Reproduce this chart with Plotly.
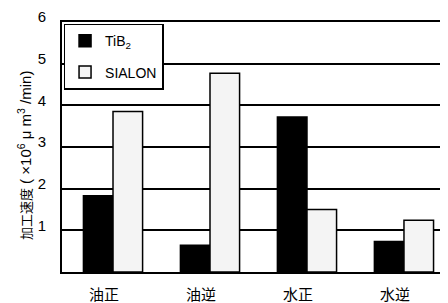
import plotly.graph_objects as go

categories = ["油正", "油逆", "水正", "水逆"]
tib2 = [1.83, 0.64, 3.72, 0.73]
sialon = [3.85, 4.77, 1.50, 1.24]
ytick_vals = [1, 2, 3, 4, 5, 6]

FONT = "Liberation Sans, Arial, Noto Sans CJK JP, sans-serif"

fig = go.Figure()
fig.add_trace(go.Bar(
    x=categories, y=tib2, name="TiB<sub>2</sub>",
    marker=dict(color="#000000", line=dict(color="#000000", width=1.5)),
    legendgroup="a",
))
fig.add_trace(go.Bar(
    x=categories, y=sialon, name="SIALON",
    marker=dict(color="#f4f4f4", line=dict(color="#000000", width=1.5)),
    legendgroup="b",
))

fig.update_layout(
    width=440, height=295,
    margin=dict(l=54, r=0, t=3, b=29),
    paper_bgcolor="white", plot_bgcolor="white",
    font=dict(family=FONT, size=14, color="#000000"),
    barmode="group", bargap=0.39, bargroupgap=0.0,
    showlegend=True,
    legend=dict(
        x=0.004, y=0.993, xanchor="left", yanchor="top",
        bgcolor="white", bordercolor="#000000", borderwidth=1.5,
        font=dict(family=FONT, size=14, color="#000000"),
        tracegroupgap=10, itemwidth=30,
    ),
    xaxis=dict(
        type="category", range=[-0.526, 3.454],
        showline=True, linecolor="#000000", linewidth=2, mirror=True,
        showgrid=False, ticks="", ticklabelshift=-9, ticklabelstandoff=8,
        tickfont=dict(family=FONT, size=15, color="#000000"),
        zeroline=False,
    ),
    yaxis=dict(
        range=[0, 6], tickvals=ytick_vals,
        showline=True, linecolor="#000000", linewidth=2,
        showgrid=True, gridcolor="#000000", gridwidth=1.5,
        ticks="", ticklabelstandoff=11, ticklabelshift=-5,
        ticklabeloverflow="allow",
        tickfont=dict(family=FONT, size=15, color="#000000"),
        zeroline=False,
        title=dict(
            text='<span style="font-size:13px">加工速度</span> ( ×10<sup>6</sup> μ m<sup>3</sup> /min)&nbsp;&nbsp;&nbsp;&nbsp;',
            font=dict(family=FONT, size=15, color="#000000"),
            standoff=2,
        ),
    ),
)

fig.write_html("out.html")
